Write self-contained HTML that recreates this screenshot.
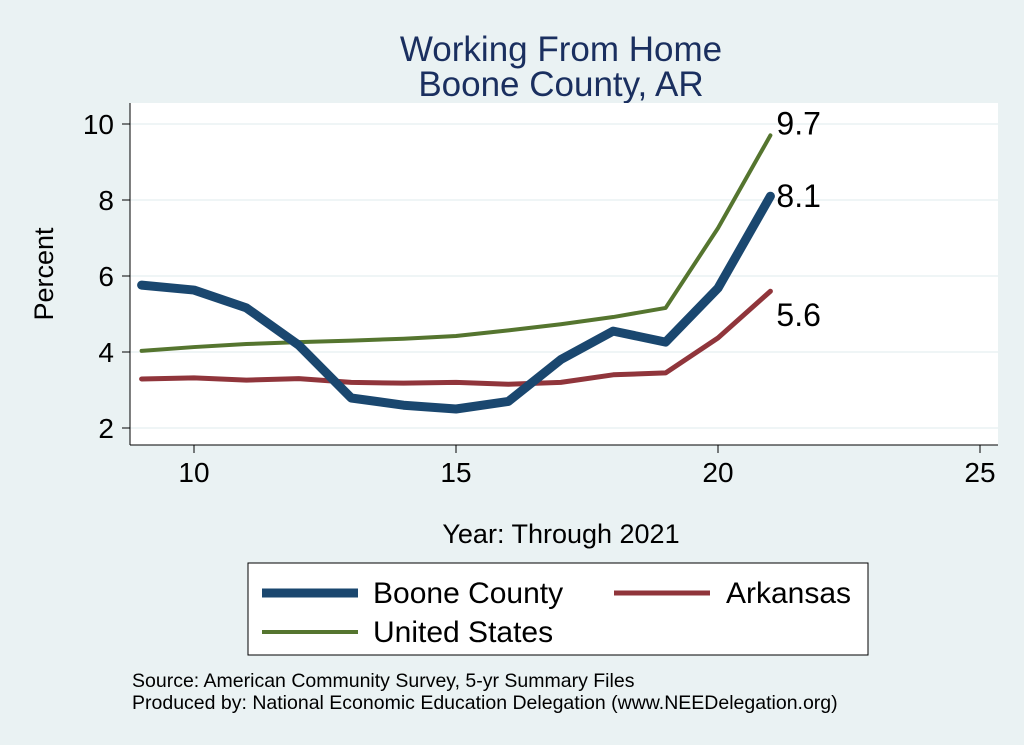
<!DOCTYPE html>
<html><head><meta charset="utf-8"><style>
body{margin:0;background:#eaf2f3;}
svg{display:block;font-family:"Liberation Sans",sans-serif;}
</style></head><body>
<svg width="1024" height="745" viewBox="0 0 1024 745">
<rect x="0" y="0" width="1024" height="745" fill="#eaf2f3"/>
<text x="561" y="61" font-size="35" fill="#1a2f5f" text-anchor="middle">Working From Home</text>
<text x="561" y="96" font-size="35" fill="#1a2f5f" text-anchor="middle">Boone County, AR</text>
<rect x="130" y="103" width="868" height="342" fill="#fff"/>
<g id="grid"></g>
<line x1="130" y1="103" x2="130" y2="445" stroke="#000"/>
<line x1="130" y1="445" x2="998" y2="445" stroke="#000"/>
<g id="ticks"></g>
<g id="series"></g>
<text x="53" y="274" font-size="27" transform="rotate(-90 53 274)" text-anchor="middle">Percent</text>
<text x="561" y="543" font-size="27" text-anchor="middle">Year: Through 2021</text>
<g>
<rect x="248" y="563" width="620" height="92" fill="#fff" stroke="#000"/>
<line x1="262" y1="593" x2="358" y2="593" stroke="#1a476f" stroke-width="9"/>
<text x="373" y="603" font-size="30">Boone County</text>
<line x1="614" y1="593" x2="710" y2="593" stroke="#90353b" stroke-width="5"/>
<text x="726" y="603" font-size="30">Arkansas</text>
<line x1="262" y1="632" x2="358" y2="632" stroke="#55752f" stroke-width="4"/>
<text x="373" y="642" font-size="30">United States</text>
</g>
<text x="132" y="687" font-size="19.5">Source: American Community Survey, 5-yr Summary Files</text>
<text x="132" y="709" font-size="19.5">Produced by: National Economic Education Delegation (www.NEEDelegation.org)</text>
</svg>
<script>
const years=[9,10,11,12,13,14,15,16,17,18,19,20,21];
const boone=[5.76,5.63,5.16,4.18,2.79,2.6,2.5,2.7,3.8,4.55,4.26,5.68,8.1];
const arkansas=[3.29,3.32,3.26,3.3,3.2,3.18,3.2,3.15,3.2,3.4,3.45,4.37,5.6];
const us=[4.03,4.13,4.21,4.26,4.3,4.35,4.42,4.57,4.73,4.92,5.16,7.26,9.7];
const xTicks=[10,15,20,25];
const yTicks=[2,4,6,8,10];
const NS="http://www.w3.org/2000/svg";
const X=v=>194+(v-10)*52.4;
const Y=v=>428-(v-2)*38;
const grid=document.getElementById('grid'),ticks=document.getElementById('ticks'),ser=document.getElementById('series');
function mk(tag,attrs,parent){const e=document.createElementNS(NS,tag);for(const k in attrs)e.setAttribute(k,attrs[k]);parent.appendChild(e);return e;}
yTicks.forEach(v=>{
 const g=mk('line',{x1:130,x2:998,y1:Y(v),y2:Y(v),stroke:'#eaf2f3','stroke-width':1.5},grid);
 
 
 const t=mk('line',{x1:122,x2:130,y1:Y(v),y2:Y(v),stroke:'#000'},ticks);
 
 
 const l=mk('text',{x:114,y:Y(v)+10,'font-size':28,'text-anchor':'end'},ticks);l.textContent=v;
 
 
});
xTicks.forEach(v=>{
 const t=mk('line',{x1:X(v),x2:X(v),y1:445,y2:453,stroke:'#000'},ticks);
 
 
 const l=mk('text',{x:X(v),y:482,'font-size':28,'text-anchor':'middle'},ticks);l.textContent=v;
 
 
});
function line(vals,color,w,name){
 const p=mk('polyline',{points:vals.map((v,i)=>X(years[i])+','+Y(v)).join(' '),fill:'none',stroke:color,'stroke-width':w,'stroke-linejoin':'round','stroke-linecap':'round'},ser);
 
 
}
line(us,'#55752f',4,'line-united-states');
line(arkansas,'#90353b',5,'line-arkansas');
line(boone,'#1a476f',9,'line-boone-county');
function lab(v,dy,name){
 const t=mk('text',{x:X(21)+6,y:Y(v)+dy,'font-size':32},ser);t.textContent=v.toFixed(1);
 
 
}
const n=years.length-1;
lab(us[n],-1,'label-united-states-last');
lab(boone[n],11,'label-boone-last');
lab(arkansas[n],35,'label-arkansas-last');
</script>
</body></html>
